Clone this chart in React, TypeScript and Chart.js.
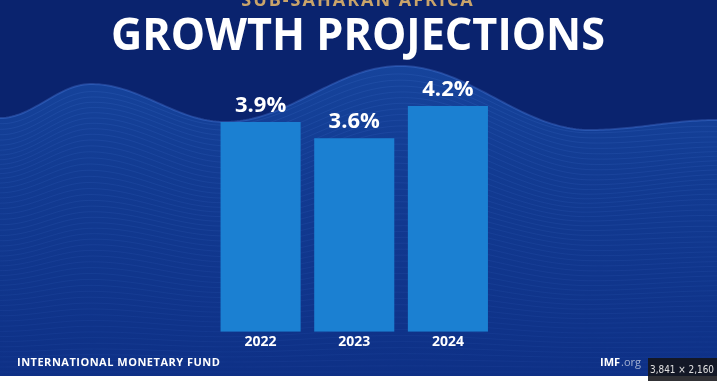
import React, { useEffect, useRef } from "react";
import { Chart, registerables } from "chart.js";
Chart.register(...registerables);

const years = ["2022", "2023", "2024"];
const growth = [3.9, 3.6, 4.2];
const valueLabels = ["3.9%", "3.6%", "4.2%"];
const titleText = "GROWTH PROJECTIONS";
const subtitleText = "SUB-SAHARAN AFRICA";
const sourceText = "INTERNATIONAL MONETARY FUND";
const siteBold = "IMF";
const siteLight = ".org";
const sizeBadge = "3,841 × 2,160";

const crestPts: [number, number][] = [
  [0, 118], [91, 84], [225, 122], [400, 66], [590, 130], [717, 120],
];

function crest(x: number) {
  for (let i = 0; i < crestPts.length - 1; i++) {
    const [x0, y0] = crestPts[i];
    const [x1, y1] = crestPts[i + 1];
    if (x >= x0 && x <= x1) {
      const t = (x - x0) / (x1 - x0);
      const s = (1 - Math.cos(Math.PI * t)) / 2;
      return y0 + (y1 - y0) * s;
    }
  }
  return crestPts[crestPts.length - 1][1];
}

const backgroundPlugin = {
  id: "bg",
  beforeDraw(chart: any) {
    const ctx = chart.ctx;
    const W = chart.width, H = chart.height;
    ctx.save();
    ctx.fillStyle = "#0a236e";
    ctx.fillRect(0, 0, W, H);
    ctx.beginPath();
    ctx.moveTo(0, H);
    for (let x = 0; x <= W; x += 3) ctx.lineTo(x, crest(x));
    ctx.lineTo(W, H);
    ctx.closePath();
    const g = ctx.createLinearGradient(0, 60, 0, H);
    g.addColorStop(0, "#16449c");
    g.addColorStop(0.35, "#123b92");
    g.addColorStop(1, "#0e3086");
    ctx.fillStyle = g;
    ctx.fill();
    const N = 50;
    for (let k = 1; k <= N; k++) {
      const t = k / N;
      ctx.beginPath();
      for (let x = 0; x <= W; x += 3) {
        const c = crest(x);
        const y = c + t * (372 - c) + Math.sin(x / 55 + k * 0.3) * 2 * (1 - t);
        if (x === 0) ctx.moveTo(x, y);
        else ctx.lineTo(x, y);
      }
      ctx.strokeStyle = `rgba(110,160,255,${0.1 * (1 - t * 0.5)})`;
      ctx.lineWidth = 1;
      ctx.stroke();
    }
    ctx.beginPath();
    for (let x = 0; x <= W; x += 3) {
      if (x === 0) ctx.moveTo(x, crest(x));
      else ctx.lineTo(x, crest(x));
    }
    ctx.strokeStyle = "rgba(90,140,240,0.3)";
    ctx.lineWidth = 2;
    ctx.stroke();
    ctx.restore();
  },
};

const textPlugin = {
  id: "texts",
  afterDatasetsDraw(chart: any) {
    const ctx = chart.ctx;
    ctx.save();
    ctx.fillStyle = "#ffffff";
    ctx.textAlign = "center";
    ctx.textBaseline = "alphabetic";
    ctx.font = "bold 22px 'Open Sans'";
    const meta = chart.getDatasetMeta(0);
    meta.data.forEach((bar: any, i: number) => {
      ctx.fillText(valueLabels[i], bar.x, bar.y - 10);
    });
    ctx.restore();
  },
  afterDraw(chart: any) {
    const ctx = chart.ctx;
    const W = chart.width, H = chart.height;
    ctx.save();
    ctx.textAlign = "center";
    ctx.textBaseline = "alphabetic";
    ctx.fillStyle = "#c9a46a";
    ctx.font = "bold 18px 'Open Sans'";
    (ctx as any).letterSpacing = "2px";
    ctx.fillText(subtitleText, 358, 6);
    (ctx as any).letterSpacing = "0px";
    ctx.fillStyle = "#ffffff";
    ctx.font = "bold 45px 'Open Sans'";
    ctx.fillText(titleText, 358, 50, 494);
    ctx.textAlign = "left";
    ctx.font = "bold 11px 'Open Sans'";
    (ctx as any).letterSpacing = "0.5px";
    ctx.fillText(sourceText, 17, 366, 204);
    (ctx as any).letterSpacing = "0px";
    ctx.fillStyle = "#ffffff";
    ctx.fillRect(0, 376, W, H - 376);
    ctx.font = "bold 11px 'Open Sans'";
    ctx.fillStyle = "#ffffff";
    ctx.fillText(siteBold, 600, 366);
    const w = ctx.measureText(siteBold).width;
    ctx.font = "11px 'Open Sans'";
    ctx.fillStyle = "rgba(255,255,255,0.6)";
    ctx.fillText(siteLight, 600 + w + 1, 366);
    ctx.fillStyle = "rgba(20,20,25,0.88)";
    ctx.fillRect(648, 358, W - 648, H - 358);
    ctx.fillStyle = "#e0e0e0";
    ctx.font = "10px 'DejaVu Sans'";
    ctx.textAlign = "center";
    ctx.fillText(sizeBadge, 682, 373, 64);
    ctx.restore();
  },
};

export default function App() {
  const ref = useRef<HTMLCanvasElement | null>(null);
  useEffect(() => {
    if (!ref.current) return;
    const chart = new Chart(ref.current, {
      type: "bar",
      data: {
        labels: years,
        datasets: [
          {
            data: growth,
            backgroundColor: "#1b80d2",
            borderWidth: 0,
            categoryPercentage: 1,
            barPercentage: 0.855,
          },
        ],
      },
      options: {
        responsive: false,
        animation: false,
        layout: { padding: { left: 213.75, right: 222.25, top: 63, bottom: 28.5 } },
        plugins: { legend: { display: false }, tooltip: { enabled: false }, title: { display: false } },
        scales: {
          y: { display: false, min: 0, max: 5 },
          x: {
            grid: { display: false, drawTicks: false },
            border: { display: false },
            ticks: { color: "#ffffff", font: { family: "'Open Sans'", size: 14, weight: "bold" }, padding: 2 },
          },
        },
      },
      plugins: [backgroundPlugin, textPlugin],
    });
    return () => chart.destroy();
  }, []);
  return (
    <div style={{ position: "fixed", left: 0, top: 0, width: 717, height: 381 }}>
      <canvas ref={ref} width={717} height={381} style={{ display: "block" }} />
    </div>
  );
}
